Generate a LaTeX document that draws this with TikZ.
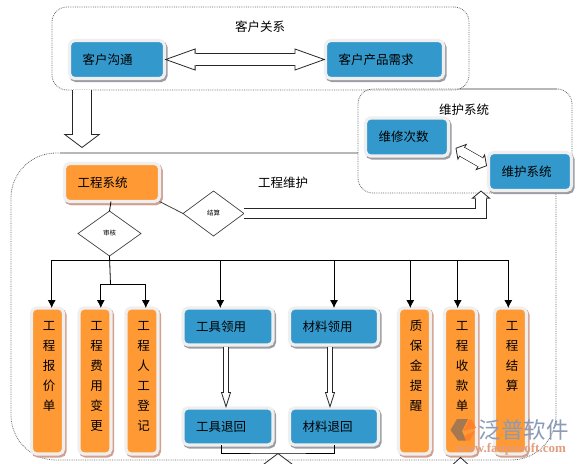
\documentclass[tikz,border=0pt]{standalone}
\usepackage{fontspec}
\setmainfont{Noto Sans CJK SC}
\newfontfamily\latinserif{Liberation Serif}
\usepackage{tikz}
\usetikzlibrary{arrows.meta, positioning, shapes.geometric}
\definecolor{boxblue}{HTML}{3399CC}
\definecolor{boxorange}{HTML}{FF9933}
\definecolor{boxframe}{HTML}{EFEFEF}
\definecolor{blueshade}{HTML}{9C9CA4}
\definecolor{orangeshade}{HTML}{D3A090}
\definecolor{markblue}{HTML}{8A9BB8}
\definecolor{markorange}{HTML}{E39C7E}
\definecolor{markbrown}{HTML}{A5784F}

\begin{document}
\begin{tikzpicture}[
    x=1pt, y=-1pt,
    every node/.style={outer sep=0pt},
    region/.style={draw=black!60, densely dotted, line width=0.8pt, rounded corners=15pt},
    edgeline/.style={draw=black!28, line width=1.2pt},
    title/.style={font=\fontsize{12.5}{20}\selectfont, inner sep=0pt},
    card/.style={draw=boxframe, line width=3.2pt, rounded corners=5pt, inner ysep=0pt,
        font=\fontsize{12.5}{20}\selectfont},
    bluebox/.style={card, fill=boxblue, align=left, inner xsep=13pt, text width=#1-26pt, minimum height=38pt,
        preaction={draw=blueshade, transform canvas={xshift=1.5pt, yshift=-2pt}}},
    tallbox/.style={card, fill=boxorange, align=center, inner xsep=0pt, text width=32pt, minimum width=32pt,
        text height=22pt, text depth=124pt,
        execute at begin node={\advance\leftskip 3pt},
        preaction={draw=orangeshade, transform canvas={xshift=1.5pt, yshift=-2pt}}},
    check/.style={diamond, draw=black!75, line width=0.7pt, inner sep=0pt,
        font=\fontsize{6.5}{8}\selectfont},
    arrow/.style={-{Latex[length=8pt, width=8pt]}, line width=0.8pt},
    link/.style={line width=0.8pt},
    hollow/.style args={#1/#2/#3}{draw=white, line width=#1,
        -{Triangle[open, color=black!85, fill=white, width=#2, length=#3, line width=0.8pt]},
        preaction={draw=black!85, line width=#1+1.6pt, arrows=-, shorten >=#3},
        postaction={draw=white, line width=#1, arrows=-, shorten >=#3-1.2pt}},
    hollowboth/.style args={#1/#2/#3}{draw=white, line width=#1,
        {Triangle[open, color=black!85, fill=white, width=#2, length=#3, line width=0.8pt]}-{Triangle[open, color=black!85, fill=white, width=#2, length=#3, line width=0.8pt]},
        preaction={draw=black!85, line width=#1+1.6pt, arrows=-, shorten >=#3, shorten <=#3},
        postaction={draw=white, line width=#1, arrows=-, shorten >=#3-1.2pt, shorten <=#3-1.2pt}}
]
\useasboundingbox (0,0) rectangle (580,463);

\node[region, rounded corners=45pt, minimum width=545pt, minimum height=307pt] (gongcheng) at (283.5,306.5) {};
\draw[edgeline] ([xshift=-224pt]gongcheng.north) -- ([xshift=75pt]gongcheng.north);
\node[region, fill=white, minimum width=214pt, minimum height=104pt] (weihu) at (465,141) {};
\draw[edgeline] ([xshift=-5pt]weihu.north) -- ([xshift=92pt]weihu.north);
\node[region, minimum width=417pt, minimum height=83pt] (kehu) at (260.5,48.5) {};

\node[title] (kehutitle) at (260,27) {客户关系};
\node[title] (weihutitle) at (464,110) {维护系统};
\node[title] (gongchengtitle) at (283,183) {工程维护};

\node[bluebox=95pt, minimum width=95pt] (goutong) at (117,59.5) {客户沟通};
\node[bluebox=118pt, minimum width=118pt, right=161pt of goutong] (xuqiu) {客户产品需求};
\node[bluebox=83pt, minimum width=83pt] (cishu) at (407,137) {维修次数};
\node[bluebox=83pt, minimum width=83pt] (xitong) at (530,171.5) {维护系统};
\node[bluebox=95pt, minimum width=95pt, fill=boxorange,
    preaction={draw=orangeshade, transform canvas={xshift=1.5pt, yshift=-2pt}}] (gcxt) at (112,182.5) {工程系统};

\node[check, minimum width=63pt, minimum height=45pt] (shenhe) at (109.5,233.5) {审核};
\node[check, minimum width=61pt, minimum height=45pt] (jiesuan) at (213.5,213.5) {结算};

\node[tallbox] (baojia) at (47.5,381) {工\\程\\报\\价\\单};
\node[tallbox, right=15.5pt of baojia] (feiyong) {工\\程\\费\\用\\变\\更};
\node[tallbox, right=15pt of feiyong] (rengong) {工\\程\\人\\工\\登\\记};
\node[bluebox=90pt, minimum width=90pt, minimum height=37pt, right=25pt of rengong.north east, anchor=north west] (gjly) {工具领用};
\node[bluebox=90pt, minimum width=90pt, minimum height=37pt, below=63pt of gjly] (gjth) {工具退回};
\node[bluebox=89pt, minimum width=89pt, minimum height=37pt, right=16.5pt of gjly] (clly) {材料领用};
\node[bluebox=89pt, minimum width=89pt, minimum height=37pt, below=63pt of clly] (clth) {材料退回};
\node[tallbox, right=20pt of clly.north east, anchor=north west] (zhibao) {质\\保\\金\\提\\醒};
\node[tallbox, right=14pt of zhibao] (shoukuan) {工\\程\\收\\款\\单};
\node[tallbox, right=18pt of shoukuan] (gcjs) {工\\程\\结\\算};

\coordinate (busroot) at (110.5,260.5);
\coordinate (split) at (110.5,284.5);
\coordinate (tuihui) at (278,453);
\coordinate (upin) at (278,480);
\coordinate (upout) at (460.5,457);
\coordinate (upfrom) at (460.5,480);

\draw[link] ([xshift=-1pt]gcxt.south) -- (shenhe.north);
\draw[link, black!75] (gcxt.south east) -- (jiesuan.west);
\draw[link] (shenhe.south) -- (split);
\draw[arrow] (busroot) -| ([xshift=4.2pt]baojia.north);
\draw[arrow] (busroot) -| ([xshift=-7.7pt]gjly.north);
\draw[arrow] (busroot) -| (clly.north);
\draw[arrow] (busroot) -| ([xshift=-4.2pt]zhibao.north);
\draw[arrow] (busroot) -| ([xshift=-2.8pt]shoukuan.north);
\draw[arrow] (busroot) -| ([xshift=-2.2pt]gcjs.north);
\draw[arrow] (split) -| ([xshift=5.8pt]feiyong.north);
\draw[arrow] (split) -| ([xshift=3.8pt]rengong.north);
\draw[link] ([xshift=-6.3pt]gjth.south) |- (tuihui) -| (clth.south);

\draw[hollowboth=11pt/22pt/31pt] (goutong) -- (xuqiu);
\draw[hollow=18pt/37pt/14pt] ([xshift=-178.5pt]kehu.south) -- ([xshift=-201.5pt, yshift=5pt]gongcheng.north);
\draw[hollowboth=9pt/19pt/8pt] ([shift={(7,-8)}]cishu.south east) -- ([shift={(-1.5,-5.5)}]xitong.west);
\draw[hollow=9.5pt/19pt/8pt] (jiesuan.east) -| ([xshift=-7.5pt]xitong.south west);
\draw[hollow=4.4pt/10pt/16pt] ([xshift=-2pt, yshift=-2pt]gjly.south) -- ([xshift=-2pt]gjth.north);
\draw[hollow=4.4pt/10pt/16pt] ([xshift=-4pt, yshift=-2pt]clly.south) -- ([xshift=-4pt]clth.north);
\draw[hollow=18pt/37pt/14pt] (upin) -- (tuihui);
\draw[hollow=9pt/22pt/10pt] (upfrom) -- (upout);

\fill[markbrown] (450.5,430) -- (457,419) -- (468,419) -- (462,431) -- (466,440.5) -- (458,440.5) -- cycle;
\fill[boxorange!85!red] (469,419.5) -- (472,419.5) -- (476,428) -- (463,431) -- cycle;
\fill[boxorange!85!red] (464,436) -- (475,431) -- (470,440.5) -- (466.5,440.5) -- cycle;
\node[inner sep=0pt, text=markblue, font=\fontsize{22.5}{24}\selectfont] (markname) at (523.5,429.5) {泛普软件};
\node[inner sep=0pt, text=markorange, font=\fontsize{13}{14}\latinserif\bfseries\selectfont] (markweb) at (511,449) {www.fanpusoft.com};
\end{tikzpicture}
\end{document}
